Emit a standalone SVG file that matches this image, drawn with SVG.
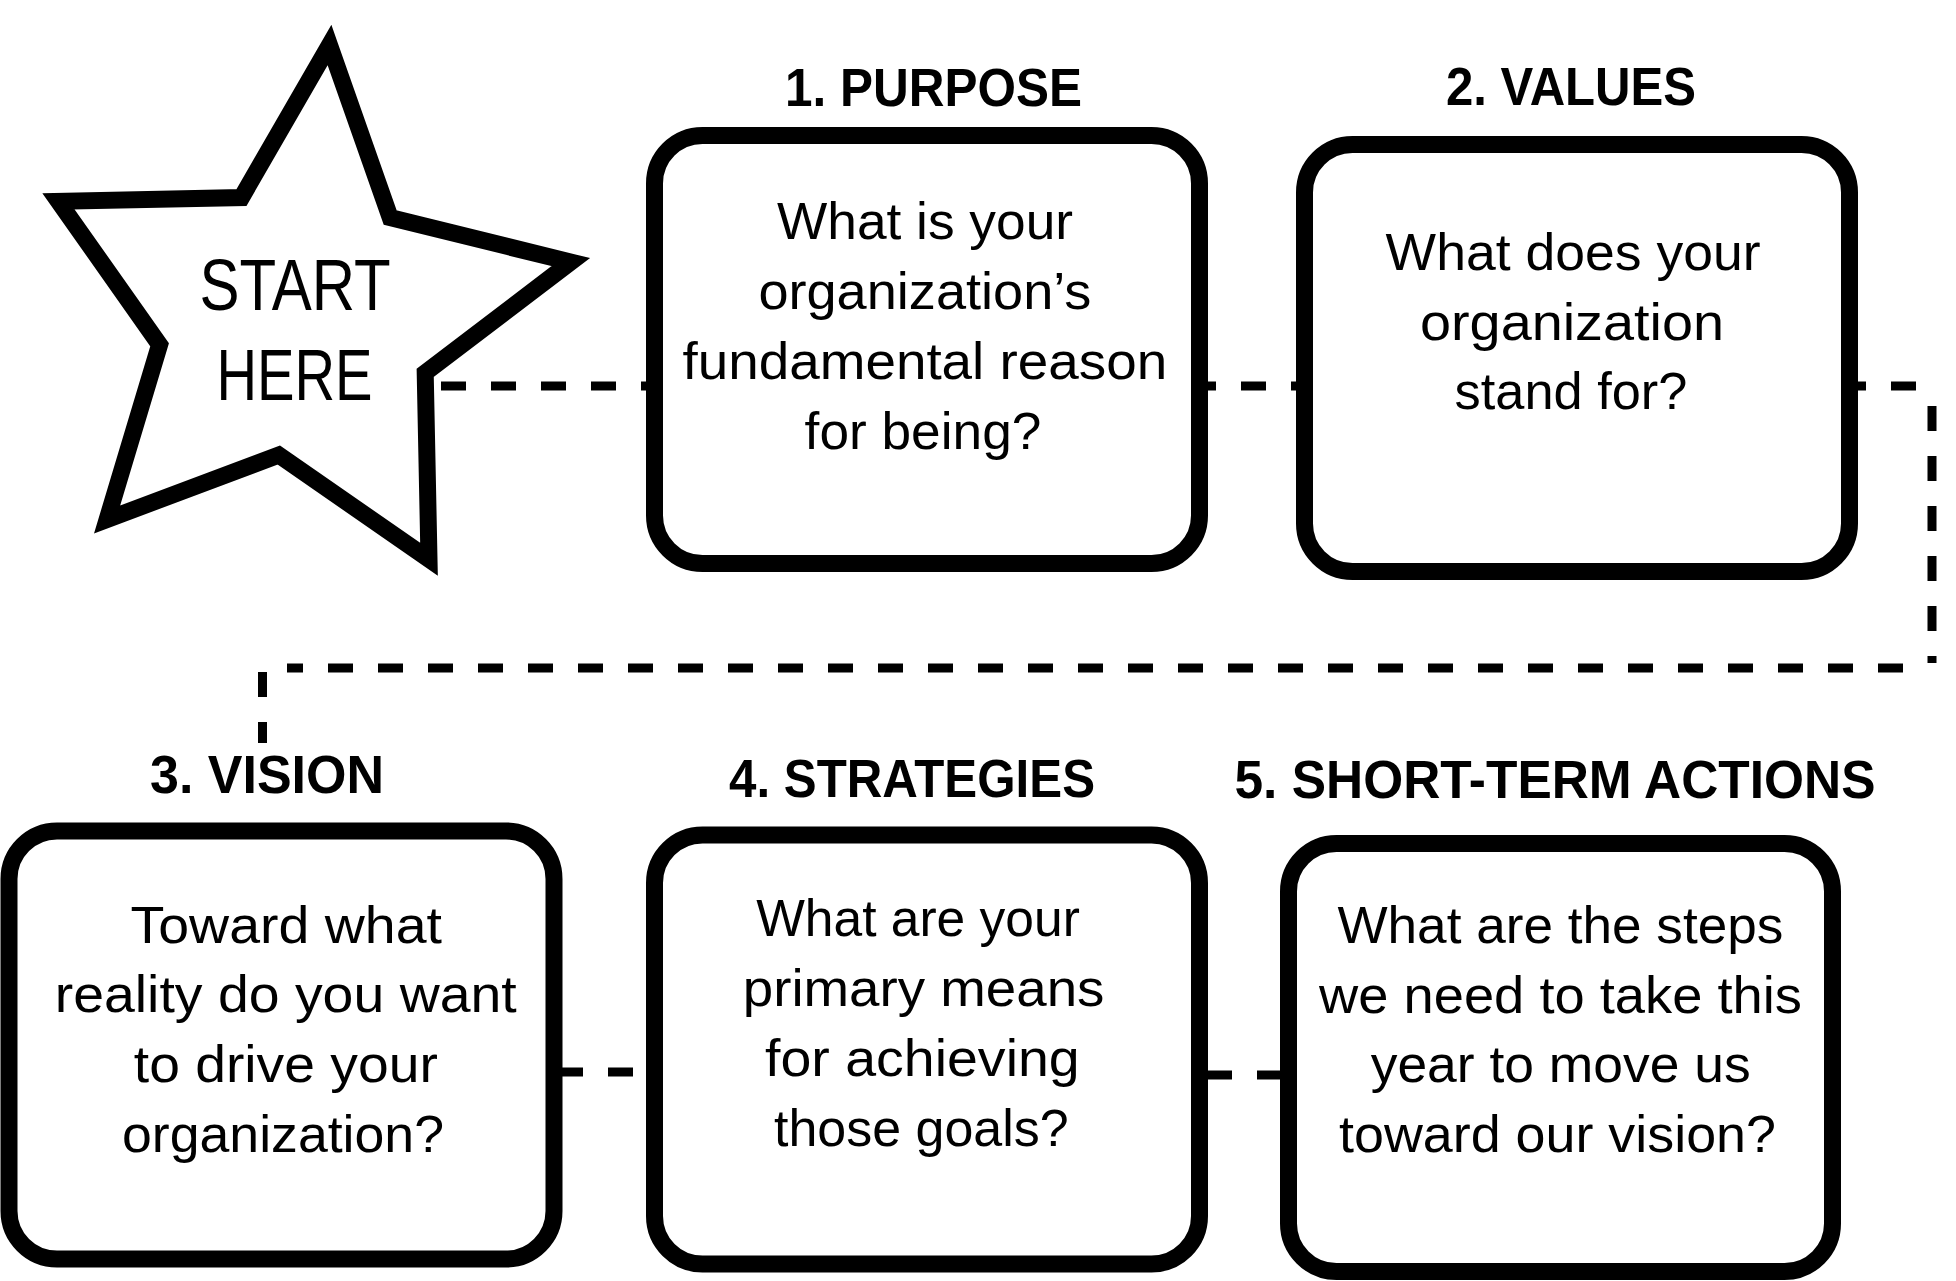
<svg xmlns="http://www.w3.org/2000/svg" width="1956" height="1281" viewBox="0 0 1956 1281">
  <style>
    .box { fill: #ffffff; stroke: #000000; stroke-width: 17; }
    .star { fill: #ffffff; stroke: #000000; stroke-width: 17; stroke-linejoin: miter; stroke-miterlimit: 10; }
    .conn { fill: none; stroke: #000000; stroke-width: 9; stroke-dasharray: 25 25; }
    .body { font-family: "Liberation Sans", Arial, sans-serif; font-size: 52px; fill: #000000; }
    .title { font-family: "Liberation Sans", Arial, sans-serif; font-size: 54px; font-weight: bold; fill: #000000; }
    .start { font-family: "Liberation Sans", Arial, sans-serif; font-size: 72px; fill: #000000; }
  </style>
  <rect x="0" y="0" width="1956" height="1281" fill="#ffffff"/>

  <g id="connectors">
    <path class="conn" d="M441,386 H1932"/>
    <path class="conn" d="M1932,406 V663"/>
    <path class="conn" d="M1903,668 H287"/>
    <path class="conn" d="M262.5,672 V743"/>
    <path class="conn" d="M558,1072 H655"/>
    <path class="conn" d="M1207,1075 H1289"/>
  </g>

  <g id="start">
    <polygon class="star" points="329.5,45 390.2,217.6 570.8,262.1 425.2,372.8 429,559.3 278.8,455 107.1,519.5 159.6,344.8 58.5,201.3 241.5,197.5"/>
    <text class="start" x="199.6" y="310" textLength="191" lengthAdjust="spacingAndGlyphs">START</text>
    <text class="start" x="216.5" y="400" textLength="156" lengthAdjust="spacingAndGlyphs">HERE</text>
  </g>

  <g id="purpose">
    <text class="title" x="785" y="106" textLength="297" lengthAdjust="spacingAndGlyphs">1. PURPOSE</text>
    <rect class="box" x="654.5" y="135.5" width="545" height="428" rx="48" ry="48"/>
    <text class="body" x="777" y="239" textLength="296" lengthAdjust="spacingAndGlyphs">What is your</text>
    <text class="body" x="758.4" y="309" textLength="333" lengthAdjust="spacingAndGlyphs">organization’s</text>
    <text class="body" x="682.5" y="379" textLength="484.7" lengthAdjust="spacingAndGlyphs">fundamental reason</text>
    <text class="body" x="804.6" y="449" textLength="236.8" lengthAdjust="spacingAndGlyphs">for being?</text>
  </g>

  <g id="values">
    <text class="title" x="1446" y="105" textLength="250" lengthAdjust="spacingAndGlyphs">2. VALUES</text>
    <rect class="box" x="1304.5" y="144.5" width="545" height="427" rx="48" ry="48"/>
    <text class="body" x="1385.6" y="269.5" textLength="375" lengthAdjust="spacingAndGlyphs">What does your</text>
    <text class="body" x="1420" y="339.5" textLength="304" lengthAdjust="spacingAndGlyphs">organization</text>
    <text class="body" x="1454.6" y="409" textLength="232.7" lengthAdjust="spacingAndGlyphs">stand for?</text>
  </g>

  <g id="vision">
    <text class="title" x="150" y="792.5" textLength="234" lengthAdjust="spacingAndGlyphs">3. VISION</text>
    <rect class="box" x="9" y="831" width="545" height="428" rx="48" ry="48"/>
    <text class="body" x="130.5" y="942.5" textLength="311.4" lengthAdjust="spacingAndGlyphs">Toward what</text>
    <text class="body" x="54.7" y="1012" textLength="462" lengthAdjust="spacingAndGlyphs">reality do you want</text>
    <text class="body" x="133.8" y="1082" textLength="304" lengthAdjust="spacingAndGlyphs">to drive your</text>
    <text class="body" x="122" y="1152" textLength="322" lengthAdjust="spacingAndGlyphs">organization?</text>
  </g>

  <g id="strategies">
    <text class="title" x="729" y="797" textLength="366" lengthAdjust="spacingAndGlyphs">4. STRATEGIES</text>
    <rect class="box" x="654.5" y="835" width="545" height="429" rx="48" ry="48"/>
    <text class="body" x="756.2" y="936" textLength="323.6" lengthAdjust="spacingAndGlyphs">What are your</text>
    <text class="body" x="742.8" y="1006" textLength="361.6" lengthAdjust="spacingAndGlyphs">primary means</text>
    <text class="body" x="765" y="1076" textLength="314.7" lengthAdjust="spacingAndGlyphs">for achieving</text>
    <text class="body" x="774" y="1146" textLength="294.7" lengthAdjust="spacingAndGlyphs">those goals?</text>
  </g>

  <g id="short-term-actions">
    <text class="title" x="1234.5" y="798" textLength="641" lengthAdjust="spacingAndGlyphs">5. SHORT-TERM ACTIONS</text>
    <rect class="box" x="1288.5" y="843.5" width="544" height="428" rx="48" ry="48"/>
    <text class="body" x="1337.4" y="942.5" textLength="446" lengthAdjust="spacingAndGlyphs">What are the steps</text>
    <text class="body" x="1319" y="1012.5" textLength="483" lengthAdjust="spacingAndGlyphs">we need to take this</text>
    <text class="body" x="1370.7" y="1082" textLength="380" lengthAdjust="spacingAndGlyphs">year to move us</text>
    <text class="body" x="1339" y="1152" textLength="437" lengthAdjust="spacingAndGlyphs">toward our vision?</text>
  </g>
</svg>
